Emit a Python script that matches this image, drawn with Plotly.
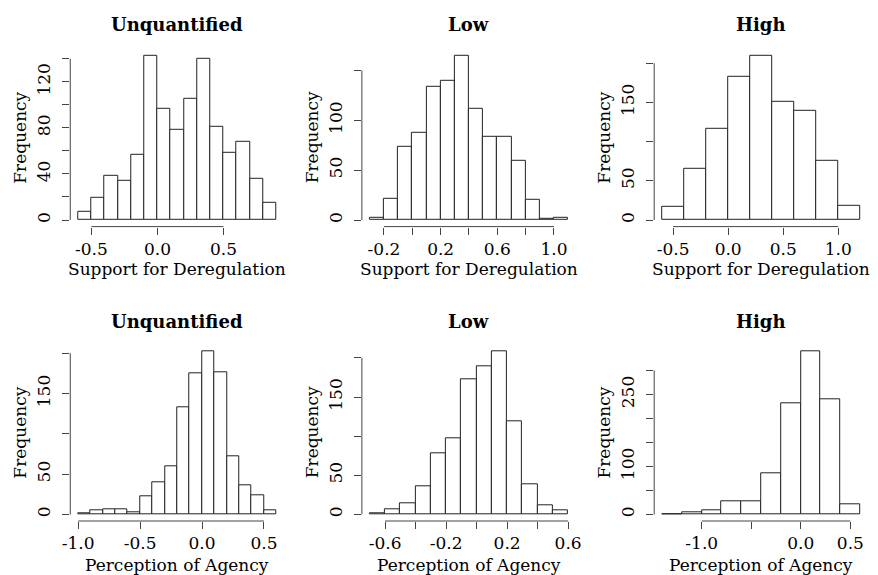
import plotly.graph_objects as go

# ---------------- data ----------------
titles = ["Unquantified", "Low", "High", "Unquantified", "Low", "High"]
xlabels = ["Support for Deregulation"] * 3 + ["Perception of Agency"] * 3

# bin start, bin width and counts per panel
sup_unq_start, sup_unq_width = -0.6, 0.1
sup_unq_counts = [7, 19, 38, 34, 57, 143, 97, 78, 105, 140, 81, 58, 68, 36, 15]

sup_low_start, sup_low_width = -0.3, 0.1
sup_low_counts = [2, 21, 73, 87, 134, 140, 165, 111, 83, 83, 59, 20, 1, 2]

sup_high_start, sup_high_width = -0.6, 0.2
sup_high_counts = [17, 65, 116, 183, 210, 151, 139, 76, 18]

agc_unq_start, agc_unq_width = -1.0, 0.1
agc_unq_counts = [1, 5, 7, 7, 3, 23, 40, 60, 133, 175, 203, 176, 72, 36, 24, 5]

agc_low_start, agc_low_width = -0.7, 0.1
agc_low_counts = [1, 6, 14, 36, 78, 97, 173, 189, 209, 119, 38, 12, 5]

agc_high_start, agc_high_width = -1.4, 0.2
agc_high_counts = [1, 4, 8, 27, 28, 86, 232, 341, 241, 21]

# tick values and labels ('' = unlabeled tick)
x_ticks = [
    ([-0.5, 0.0, 0.5], ["-0.5", "0.0", "0.5"]),
    ([-0.2, 0.0, 0.2, 0.4, 0.6, 0.8, 1.0], ["-0.2", "", "0.2", "", "0.6", "", "1.0"]),
    ([-0.5, 0.0, 0.5, 1.0], ["-0.5", "0.0", "0.5", "1.0"]),
    ([-1.0, -0.5, 0.0, 0.5], ["-1.0", "-0.5", "0.0", "0.5"]),
    ([-0.6, -0.4, -0.2, 0.0, 0.2, 0.4, 0.6], ["-0.6", "", "-0.2", "", "0.2", "", "0.6"]),
    ([-1.0, -0.5, 0.0, 0.5], ["-1.0", "", "0.0", "0.5"]),
]
y_ticks = [
    ([0, 20, 40, 60, 80, 100, 120, 140], ["0", "", "40", "", "80", "", "120", ""]),
    ([0, 50, 100, 150], ["0", "50", "100", ""]),
    ([0, 50, 100, 150, 200], ["0", "50", "", "150", ""]),
    ([0, 50, 100, 150, 200], ["0", "50", "", "150", ""]),
    ([0, 50, 100, 150, 200], ["0", "50", "", "150", ""]),
    ([0, 50, 100, 150, 200, 250, 300], ["0", "", "100", "", "", "250", ""]),
]

hists = [
    (sup_unq_start, sup_unq_width, sup_unq_counts),
    (sup_low_start, sup_low_width, sup_low_counts),
    (sup_high_start, sup_high_width, sup_high_counts),
    (agc_unq_start, agc_unq_width, agc_unq_counts),
    (agc_low_start, agc_low_width, agc_low_counts),
    (agc_high_start, agc_high_width, agc_high_counts),
]

# ---------------- layout geometry (pixels) ----------------
W, H = 878, 575
cols = [(63.2, 280.4), (359.2, 576.6), (655.9, 873.1)]
rows = [(48.8, 226.6), (344.3, 521.0)]
title_y = [25, 321]
xlab_y = [269, 565]

FONT = "DejaVu Serif"
FS = 17
LINE = "#222222"
AXC = "#444444"

fig = go.Figure()
layout = dict(
    width=W, height=H, margin=dict(l=0, r=0, t=0, b=0),
    paper_bgcolor="white", plot_bgcolor="white", showlegend=False,
    font=dict(family=FONT, size=FS, color="black"),
)
shapes, annotations = [], []

for i, (start, width, counts) in enumerate(hists):
    n = i + 1
    r, c = divmod(i, 3)
    xs = "" if n == 1 else str(n)
    centers = [start + width * (k + 0.5) for k in range(len(counts))]
    lo = start
    hi = start + width * len(counts)
    ymax = max(counts)
    fig.add_trace(go.Bar(
        x=centers, y=counts, width=[width] * len(counts),
        marker=dict(color="white", line=dict(color=LINE, width=1)),
        xaxis="x" + xs, yaxis="y" + xs, hoverinfo="x+y",
    ))
    x0p, x1p = cols[c]
    y0p, y1p = rows[r]
    xtv, xtt = x_ticks[i]
    ytv, ytt = y_ticks[i]
    layout["xaxis" + xs] = dict(
        domain=[x0p / W, x1p / W], anchor="y" + xs,
        range=[lo - 0.04 * (hi - lo), hi + 0.04 * (hi - lo)],
        showgrid=False, zeroline=False, showline=False,
        ticks="outside", ticklen=7, tickwidth=1, tickcolor=AXC,
        tickvals=xtv, ticktext=xtt, tickfont=dict(family=FONT, size=FS, color="black"),
    )
    layout["yaxis" + xs] = dict(
        domain=[1 - y1p / H, 1 - y0p / H], anchor="x" + xs,
        range=[-0.04 * ymax, 1.04 * ymax],
        showgrid=False, zeroline=False, showline=False,
        ticks="outside", ticklen=7, tickwidth=1, tickcolor=AXC,
        tickvals=ytv, ticktext=ytt, tickangle=-90, ticklabelstandoff=5,
        tickfont=dict(family=FONT, size=FS, color="black"),
    )
    # R-style axis lines spanning first to last tick
    shapes.append(dict(type="line", xref="x" + xs, yref="y" + xs + " domain",
                       x0=xtv[0], x1=xtv[-1], y0=0, y1=0,
                       line=dict(color=AXC, width=1)))
    shapes.append(dict(type="line", xref="x" + xs + " domain", yref="y" + xs,
                       x0=0, x1=0, y0=ytv[0], y1=ytv[-1],
                       line=dict(color=AXC, width=1)))
    cx = (x0p + x1p) / 2 / W
    annotations.append(dict(text="<b>" + titles[i] + "</b>", x=cx, y=1 - title_y[r] / H,
                            xref="paper", yref="paper", showarrow=False,
                            xanchor="center", yanchor="middle",
                            font=dict(family=FONT, size=FS + 1, color="black")))
    annotations.append(dict(text=xlabels[i], x=cx, y=1 - xlab_y[r] / H,
                            xref="paper", yref="paper", showarrow=False,
                            xanchor="center", yanchor="middle",
                            font=dict(family=FONT, size=FS, color="black")))
    annotations.append(dict(text="Frequency", x=(x0p - 51) / W, y=1 - (y0p + y1p) / 2 / H,
                            xref="paper", yref="paper", showarrow=False, textangle=-90,
                            xanchor="center", yanchor="middle",
                            font=dict(family=FONT, size=FS, color="black")))

layout["shapes"] = shapes
layout["annotations"] = annotations
layout["bargap"] = 0
fig.update_layout(**layout)
fig.write_html("out.html")
